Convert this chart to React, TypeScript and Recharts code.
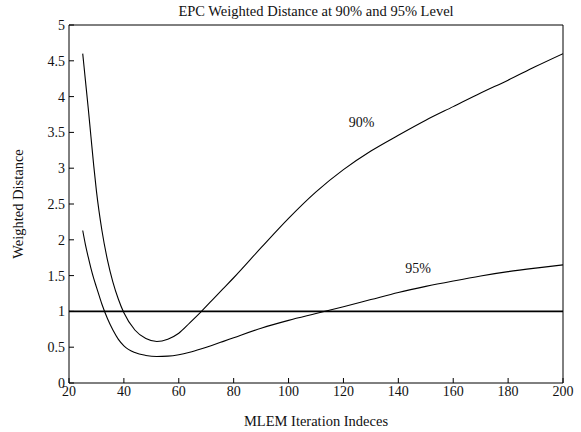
import { LineChart, Line, XAxis, YAxis, ReferenceLine, ReferenceDot } from 'recharts'

const iterations = [25, 26, 27, 28, 29, 30, 32, 34, 36, 38, 40, 44, 48, 52, 56, 60, 64, 68, 72, 76, 80, 90, 100, 110, 120, 130, 140, 150, 160, 170, 180, 190, 200]
const dist90 = [4.6, 4.22, 3.84, 3.44, 3.04, 2.68, 2.13, 1.72, 1.41, 1.17, 0.98, 0.74, 0.62, 0.58, 0.612, 0.695, 0.84, 0.99, 1.15, 1.31, 1.47, 1.89, 2.3, 2.67, 2.98, 3.24, 3.46, 3.67, 3.86, 4.05, 4.23, 4.42, 4.6]
const dist95 = [2.13, 1.93, 1.76, 1.6, 1.46, 1.34, 1.1, 0.9, 0.74, 0.61, 0.52, 0.425, 0.385, 0.37, 0.375, 0.395, 0.43, 0.475, 0.525, 0.578, 0.632, 0.765, 0.875, 0.97, 1.065, 1.165, 1.265, 1.35, 1.425, 1.495, 1.555, 1.605, 1.65]

const xTicks = [20, 40, 60, 80, 100, 120, 140, 160, 180, 200]
const yTicks = [0, 0.5, 1, 1.5, 2, 2.5, 3, 3.5, 4, 4.5, 5]
const threshold = 1

const curveLabels = ['90%', '95%']
const labelX = [126.6, 147.2]
const labelY = [3.65, 1.61]

const data = iterations.map((it, i) => ({ it, d90: dist90[i], d95: dist95[i] }))

const font = 'Liberation Serif, Times New Roman, serif'
const tickStyle = { fontSize: 14, fill: '#111', fontFamily: font }

export default function App() {
  return (
    <div style={{ position: 'absolute', left: 0, top: 0, width: 581, height: 432, background: '#fff', fontFamily: font, color: '#111' }}>
      <div style={{ position: 'absolute', left: 0, width: 632, top: 3, textAlign: 'center', fontSize: 14.5 }}>
        EPC Weighted Distance at 90% and 95% Level
      </div>
      <LineChart width={581} height={432} data={data} margin={{ top: 20, right: 13, bottom: 19, left: 29 }}>
        <XAxis dataKey="it" type="number" domain={[20, 200]} ticks={xTicks} allowDataOverflow
          tickSize={-5} tickMargin={8} height={30} stroke="#000" tick={tickStyle} />
        <XAxis xAxisId="top" orientation="top" dataKey="it" type="number" domain={[20, 200]} ticks={xTicks}
          allowDataOverflow tickSize={-5} height={5} stroke="#000" tick={false} />
        <YAxis type="number" domain={[0, 5]} ticks={yTicks} tickSize={-5} tickMargin={9} width={40}
          stroke="#000" tick={tickStyle} />
        <YAxis yAxisId="r" orientation="right" type="number" domain={[0, 5]} ticks={yTicks} tickSize={-5}
          width={5} stroke="#000" tick={false} />
        <ReferenceLine y={threshold} stroke="#000" strokeWidth={1.6} />
        <Line dataKey="d90" type="monotone" stroke="#000" strokeWidth={1.1} dot={false} isAnimationActive={false} />
        <Line dataKey="d95" type="monotone" stroke="#000" strokeWidth={1.1} dot={false} isAnimationActive={false} />
        {curveLabels.map((t, i) => (
          <ReferenceDot key={t} x={labelX[i]} y={labelY[i]} r={1} fill="none" stroke="none"
            label={{ value: t, position: 'center', fontSize: 14, fill: '#111', fontFamily: font }} />
        ))}
      </LineChart>
      <div style={{ position: 'absolute', left: 0, width: 632, top: 413, textAlign: 'center', fontSize: 14.5 }}>
        MLEM Iteration Indeces
      </div>
      <div style={{ position: 'absolute', left: 18, top: 204, fontSize: 14.5, whiteSpace: 'nowrap', transform: 'translate(-50%, -50%) rotate(-90deg)' }}>
        Weighted Distance
      </div>
    </div>
  )
}
